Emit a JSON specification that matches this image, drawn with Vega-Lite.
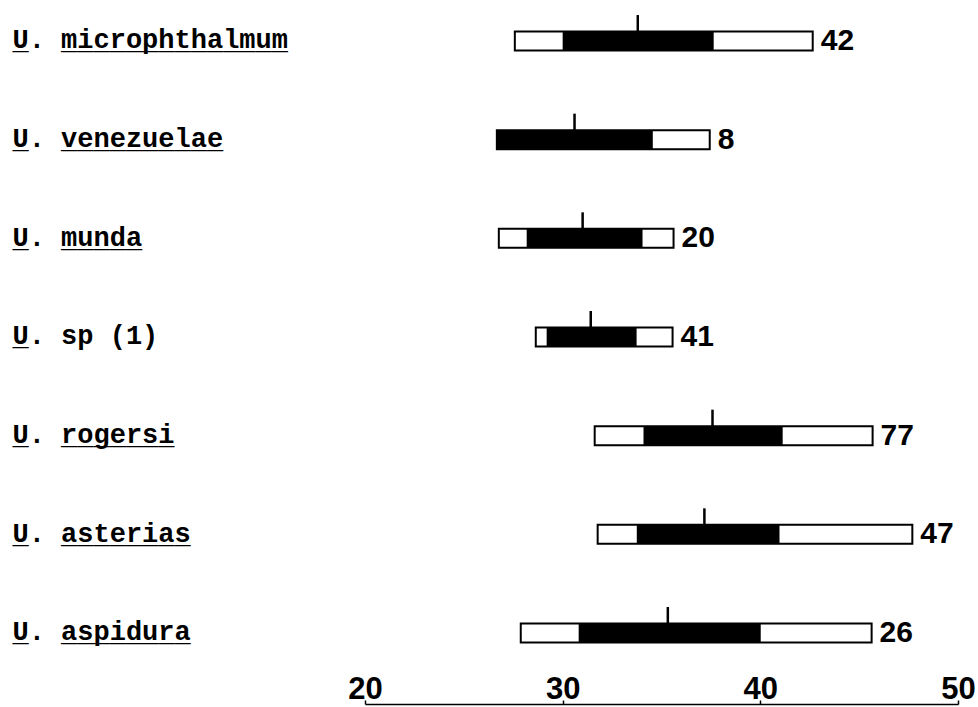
{
  "$schema": "https://vega.github.io/schema/vega-lite/v6.json",
  "autosize": {"type": "none"},
  "width": 593,
  "height": 704,
  "padding": {"left": 365, "top": 0, "right": 20, "bottom": 3},
  "background": "white",
  "config": {"view": {"stroke": null}},
  "data": {
    "values": [
      {"species": "microphthalmum", "min": 27.58, "lo": 30.0, "hi": 37.64, "max": 42.65, "mean": 33.8, "n": 42},
      {"species": "venezuelae", "min": 26.67, "lo": 26.67, "hi": 34.56, "max": 37.44, "mean": 30.6, "n": 8},
      {"species": "munda", "min": 26.77, "lo": 28.18, "hi": 34.04, "max": 35.61, "mean": 31.01, "n": 20},
      {"species": "sp (1)", "min": 28.64, "lo": 29.19, "hi": 33.74, "max": 35.56, "mean": 31.42, "n": 41},
      {"species": "rogersi", "min": 31.62, "lo": 34.09, "hi": 41.13, "max": 45.68, "mean": 37.58, "n": 77},
      {"species": "asterias", "min": 31.77, "lo": 33.75, "hi": 40.97, "max": 47.69, "mean": 37.17, "n": 47},
      {"species": "aspidura", "min": 27.88, "lo": 30.81, "hi": 40.02, "max": 45.63, "mean": 35.32, "n": 26}
    ]
  },
  "encoding": {
    "y": {
      "field": "species",
      "type": "nominal",
      "sort": null,
      "scale": {"type": "point", "padding": 0.5675, "align": 0.366},
      "axis": {
        "title": null,
        "orient": "left",
        "domain": false,
        "ticks": false,
        "labelAlign": "left",
        "labelBaseline": "alphabetic",
        "labelPadding": 353,
        "labelLimit": 500,
        "labelFont": "Liberation Mono",
        "labelFontWeight": "bold",
        "labelFontSize": 27,
        "labelLineHeight": 1,
        "labelColor": "black",
        "labelOffset": 7,
        "labelExpr": "datum.value == 'sp (1)' ? ['U. sp (1)', '_\u00a0\u00a0\u00a0\u00a0\u00a0\u00a0\u00a0\u00a0'] : ['U. ' + datum.value, '_\u00a0\u00a0' + replace(datum.value, /./g, '_')]"
      }
    }
  },
  "layer": [
    {
      "mark": {"type": "bar", "fill": "white", "stroke": "black", "strokeWidth": 2, "size": 19},
      "encoding": {
        "x": {
          "field": "min",
          "type": "quantitative",
          "scale": {"domain": [20, 50], "nice": false, "zero": false},
          "axis": {
            "title": null,
            "orient": "bottom",
            "values": [20, 30, 40, 50],
            "grid": false,
            "domainColor": "black",
            "domainWidth": 1.5,
            "tickColor": "black",
            "tickWidth": 1.5,
            "tickSize": -4,
            "labelPadding": -2,
            "labelBaseline": "alphabetic",
            "labelFont": "Liberation Sans",
            "labelFontWeight": "bold",
            "labelFontSize": 31,
            "labelColor": "black",
            "labelFlush": false
          }
        },
        "x2": {"field": "max"}
      }
    },
    {
      "mark": {"type": "bar", "fill": "black", "size": 19},
      "encoding": {
        "x": {"field": "lo", "type": "quantitative"},
        "x2": {"field": "hi"}
      }
    },
    {
      "mark": {"type": "tick", "color": "black", "size": 26, "thickness": 2.5, "yOffset": -13, "orient": "vertical", "opacity": 1},
      "encoding": {
        "x": {"field": "mean", "type": "quantitative"}
      }
    },
    {
      "mark": {"type": "text", "align": "left", "baseline": "middle", "dx": 8, "font": "Liberation Sans", "fontWeight": "bold", "fontSize": 30, "color": "black"},
      "encoding": {
        "x": {"field": "max", "type": "quantitative"},
        "text": {"field": "n", "type": "quantitative"}
      }
    }
  ]
}
